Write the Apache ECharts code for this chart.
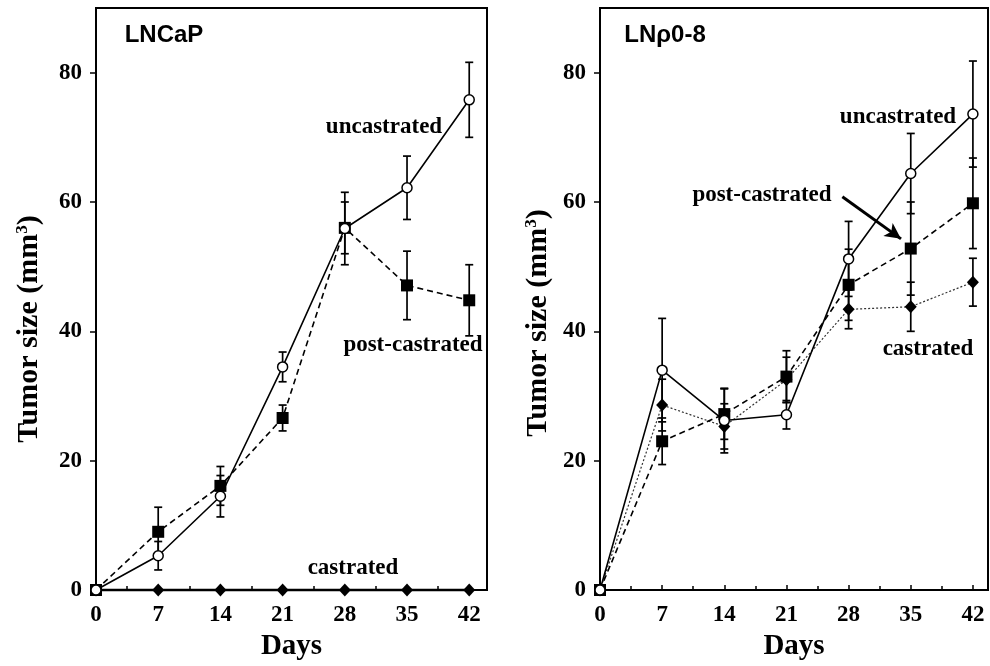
<!DOCTYPE html>
<html>
<head>
<meta charset="utf-8">
<script src="https://cdn.jsdelivr.net/npm/echarts@6/dist/echarts.min.js"></script>
<style>
  html, body { margin: 0; padding: 0; background: #fff; }
  #chart { width: 990px; height: 666px; }
</style>
</head>
<body>
<div id="chart"></div>
<script>
// days after inoculation
var days = [0, 7, 14, 21, 28, 35, 42];
var yTicks = [0, 20, 40, 60, 80];

// LNCaP panel
var lncapUnc = [0, 5.3, 14.5, 34.5, 55.9, 62.2, 75.8];
var lncapUncErr = [0, 2.2, 3.2, 2.3, 5.6, 4.9, 5.8];
var lncapPost = [0, 9.0, 16.1, 26.6, 56.0, 47.1, 44.8];
var lncapPostErr = [0, 3.8, 3.0, 2.0, 4.0, 5.3, 5.5];
var lncapCast = [0, 0, 0, 0, 0, 0, 0];

// LNrho0-8 panel
var rhoUnc = [0, 34.0, 26.2, 27.1, 51.2, 64.4, 73.6];
var rhoUncErr = [0, 8.0, 5.0, 2.2, 5.8, 6.2, 8.2];
var rhoPost = [0, 23.0, 27.2, 33.0, 47.2, 52.8, 59.8];
var rhoPostErr = [0, 3.6, 3.9, 4.0, 5.5, 7.2, 7.0];
var rhoCast = [0, 28.6, 25.3, 32.5, 43.4, 43.8, 47.6];
var rhoCastErr = [0, 4.0, 3.5, 3.5, 3.0, 3.8, 3.7];

// arrow pointing at post-castrated curve (data coords, right panel)
var arrowFrom = [27.3, 60.8];
var arrowTo = [33.9, 54.3];

var SERIF = '"Liberation Serif", "Times New Roman", serif';
var SANS = '"Liberation Sans", Arial, sans-serif';

function pairs(ys) {
  return days.map(function (d, i) { return [d, ys[i]]; });
}
function errData(ys, es) {
  var out = [];
  days.forEach(function (d, i) {
    if (es[i] > 0) out.push([d, ys[i] - es[i], ys[i] + es[i]]);
  });
  return out;
}
function renderErr(params, api) {
  var x = api.value(0);
  var lo = api.coord([x, api.value(1)]);
  var hi = api.coord([x, api.value(2)]);
  var cap = 4;
  var st = { stroke: '#000', lineWidth: 1.7 };
  return {
    type: 'group',
    children: [
      { type: 'line', shape: { x1: lo[0], y1: lo[1], x2: hi[0], y2: hi[1] }, style: st },
      { type: 'line', shape: { x1: lo[0] - cap, y1: lo[1], x2: lo[0] + cap, y2: lo[1] }, style: st },
      { type: 'line', shape: { x1: hi[0] - cap, y1: hi[1], x2: hi[0] + cap, y2: hi[1] }, style: st }
    ]
  };
}
function errSeries(ys, es, idx) {
  return {
    type: 'custom', xAxisIndex: idx, yAxisIndex: idx, z: 1,
    renderItem: renderErr, data: errData(ys, es),
    encode: { x: 0, y: [1, 2] }, silent: true, clip: false
  };
}
function lineSeries(ys, idx, kind) {
  var s = {
    type: 'line', xAxisIndex: idx, yAxisIndex: idx, z: 3,
    data: pairs(ys), clip: false, silent: true,
    lineStyle: { color: '#000', width: 1.6 },
    itemStyle: { color: '#000' }
  };
  if (kind === 'unc') {
    s.symbol = 'circle';
    s.symbolSize = 10;
    s.itemStyle = { color: '#fff', borderColor: '#000', borderWidth: 1.5 };
    s.z = 4;
  } else if (kind === 'post') {
    s.symbol = 'rect';
    s.symbolSize = 12;
    s.lineStyle.type = [6, 4];
  } else {
    s.symbol = 'diamond';
    s.symbolSize = [12, 13];
    if (idx === 1) {
      s.lineStyle = { color: '#333', width: 1.2, type: [2, 2] };
    } else {
      s.lineStyle.width = 2.5;
    }
  }
  return s;
}

function xAxis(idx, max) {
  return {
    type: 'value', gridIndex: idx, min: 0, max: max, interval: 7,
    name: 'Days', nameLocation: 'middle', nameGap: 42,
    nameTextStyle: { fontFamily: SERIF, fontWeight: 'bold', fontSize: 29, color: '#000' },
    axisLine: { show: true, onZero: false, lineStyle: { color: '#000', width: 2 } },
    axisTick: { show: true, inside: true, length: 5, lineStyle: { color: '#000', width: 1.5 } },
    minorTick: { show: true, splitNumber: 2, length: 4, lineStyle: { color: '#000', width: 1.5 } },
    axisLabel: {
      showMaxLabel: false, margin: 14, color: '#000',
      fontFamily: SERIF, fontWeight: 'bold', fontSize: 23
    },
    splitLine: { show: false }
  };
}
function yAxis(idx) {
  return {
    type: 'value', gridIndex: idx, min: 0, max: 90, interval: 20,
    axisLine: { show: true, lineStyle: { color: '#000', width: 2 } },
    axisTick: { show: true, length: 6, lineStyle: { color: '#000', width: 1.5 } },
    axisLabel: {
      showMaxLabel: false, margin: 14, color: '#000',
      fontFamily: SERIF, fontWeight: 'bold', fontSize: 23,
      formatter: function (v) { return yTicks.indexOf(v) >= 0 ? String(v) : ''; }
    },
    splitLine: { show: false }
  };
}
function label(text, x, y, font, size) {
  return {
    type: 'text', x: x, y: y, z: 10,
    style: {
      text: text, fill: '#000', font: 'bold ' + size + 'px ' + font,
      align: 'center', verticalAlign: 'middle'
    }
  };
}
function yName(x, y) {
  return {
    type: 'text', x: x, y: y, rotation: Math.PI / 2, z: 10,
    style: {
      text: 'Tumor size (mm{sup|3})', fill: '#000',
      font: 'bold 30px ' + SERIF, align: 'center', verticalAlign: 'middle',
      rich: {
        sup: { font: 'bold 17px ' + SERIF, fill: '#000', verticalAlign: 'top', padding: [0, 0, 12, 0] }
      }
    }
  };
}

var chart = echarts.init(document.getElementById('chart'), null, { renderer: 'canvas' });

var postRho = lineSeries(rhoPost, 1, 'post');
postRho.markLine = {
  silent: true, symbol: ['none', 'arrow'], symbolSize: [12, 16],
  label: { show: false },
  lineStyle: { color: '#000', width: 3, type: 'solid' },
  data: [[{ coord: arrowFrom }, { coord: arrowTo }]]
};

chart.setOption({
  animation: false,
  backgroundColor: '#fff',
  grid: [
    { left: 96, top: 8, width: 391, height: 584, show: true, borderColor: '#000', borderWidth: 2, backgroundColor: 'transparent' },
    { left: 600, top: 8, width: 388, height: 584, show: true, borderColor: '#000', borderWidth: 2, backgroundColor: 'transparent' }
  ],
  xAxis: [xAxis(0, 44), xAxis(1, 43.7)],
  yAxis: [yAxis(0), yAxis(1)],
  series: [
    errSeries(lncapUnc, lncapUncErr, 0),
    errSeries(lncapPost, lncapPostErr, 0),
    lineSeries(lncapCast, 0, 'cast'),
    lineSeries(lncapPost, 0, 'post'),
    lineSeries(lncapUnc, 0, 'unc'),
    errSeries(rhoUnc, rhoUncErr, 1),
    errSeries(rhoPost, rhoPostErr, 1),
    errSeries(rhoCast, rhoCastErr, 1),
    lineSeries(rhoCast, 1, 'cast'),
    postRho,
    lineSeries(rhoUnc, 1, 'unc')
  ],
  graphic: [
    yName(29, 329),
    yName(538, 323),
    label('LNCaP', 164, 35, SANS, 24),
    label('uncastrated', 384, 127, SERIF, 23),
    label('post-castrated', 413, 345, SERIF, 23),
    label('castrated', 353, 568, SERIF, 23),
    label('LN\u03c10-8', 665, 35, SANS, 24),
    label('uncastrated', 898, 117, SERIF, 23),
    label('post-castrated', 762, 195, SERIF, 23),
    label('castrated', 928, 349, SERIF, 23)
  ]
});
</script>
</body>
</html>
